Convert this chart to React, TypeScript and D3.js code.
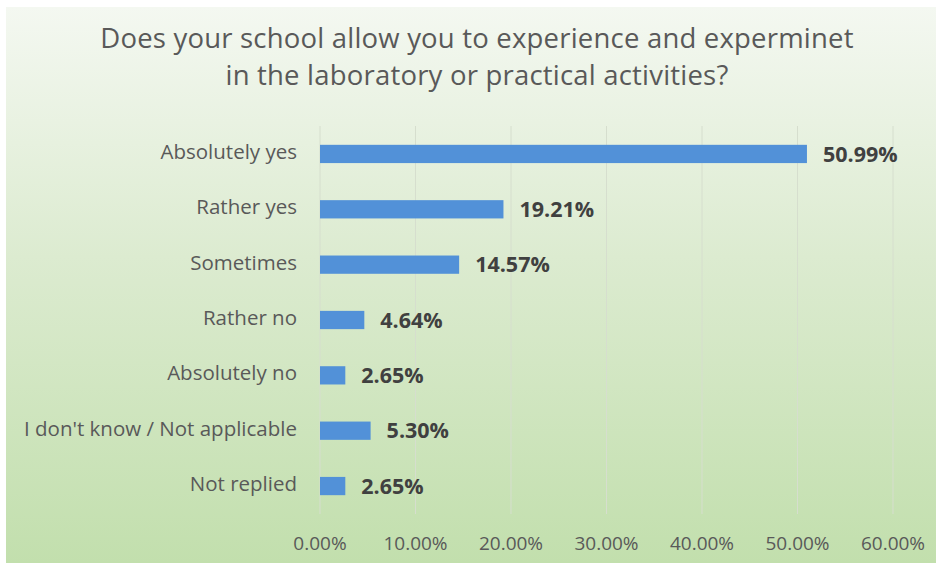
import * as d3 from 'd3';
import React from 'react';

const categories = [
  'Absolutely yes',
  'Rather yes',
  'Sometimes',
  'Rather no',
  'Absolutely no',
  "I don't know / Not applicable",
  'Not replied',
];
const shares = [50.99, 19.21, 14.57, 4.64, 2.65, 5.3, 2.65];
const xTicks = [0, 10, 20, 30, 40, 50, 60];
const titleLines = [
  'Does your school allow you to experience and experminet',
  'in the laboratory or practical activities?',
];

export default function App() {
  const width = 936;
  const height = 563;
  const plotLeft = 320;
  const plotRight = 893;
  const plotTop = 126;
  const plotBottom = 514;

  const xScale = d3.scaleLinear().domain([0, 60]).range([plotLeft, plotRight]);
  const yScale = d3
    .scaleBand<string>()
    .domain(categories)
    .range([plotTop, plotBottom])
    .paddingInner(0.67)
    .paddingOuter(0.34);

  const font = "'Open Sans', 'DejaVu Sans', sans-serif";

  return (
    <svg
      width={width}
      height={height}
      style={{ position: 'absolute', left: 0, top: 0 }}
      fontFamily={font}
    >
      <defs>
        <linearGradient id="bg" x1="0" y1="0" x2="0" y2="1">
          <stop offset="0%" stopColor="#f4f8f1" />
          <stop offset="45%" stopColor="#dcebd0" />
          <stop offset="100%" stopColor="#c2dfad" />
        </linearGradient>
      </defs>
      <rect x={0} y={0} width={width} height={height} fill="#ffffff" />
      <rect x={6} y={7} width={width - 6} height={height - 7} fill="url(#bg)" />

      {titleLines.map((line, i) => (
        <text
          key={line}
          x={477}
          y={48 + i * 37}
          textAnchor="middle"
          fontSize={27.5}
          fill="#595959"
          letterSpacing={0.2}
        >
          {line}
        </text>
      ))}

      {xTicks.map(t => (
        <line
          key={'g' + t}
          x1={xScale(t)}
          x2={xScale(t)}
          y1={plotTop}
          y2={plotBottom}
          stroke="#d6dece"
          strokeWidth={1}
        />
      ))}

      {categories.map((c, i) => (
        <g key={c}>
          <rect
            x={xScale(0)}
            y={yScale(c)!}
            width={xScale(shares[i]) - xScale(0)}
            height={yScale.bandwidth()}
            fill="#5291d8"
          />
          <text
            x={297}
            y={yScale(c)! + yScale.bandwidth() / 2}
            dy="0.25em"
            textAnchor="end"
            fontSize={20.5}
            fill="#595959"
          >
            {c}
          </text>
          <text
            x={xScale(shares[i]) + 16}
            y={yScale(c)! + yScale.bandwidth() / 2}
            dy="0.36em"
            fontSize={21.5}
            fontWeight="bold"
            fill="#404040"
          >
            {shares[i].toFixed(2) + '%'}
          </text>
        </g>
      ))}

      {xTicks.map(t => (
        <text
          key={'t' + t}
          x={xScale(t)}
          y={550}
          textAnchor="middle"
          fontSize={19}
          fill="#595959"
        >
          {t.toFixed(2) + '%'}
        </text>
      ))}
    </svg>
  );
}
